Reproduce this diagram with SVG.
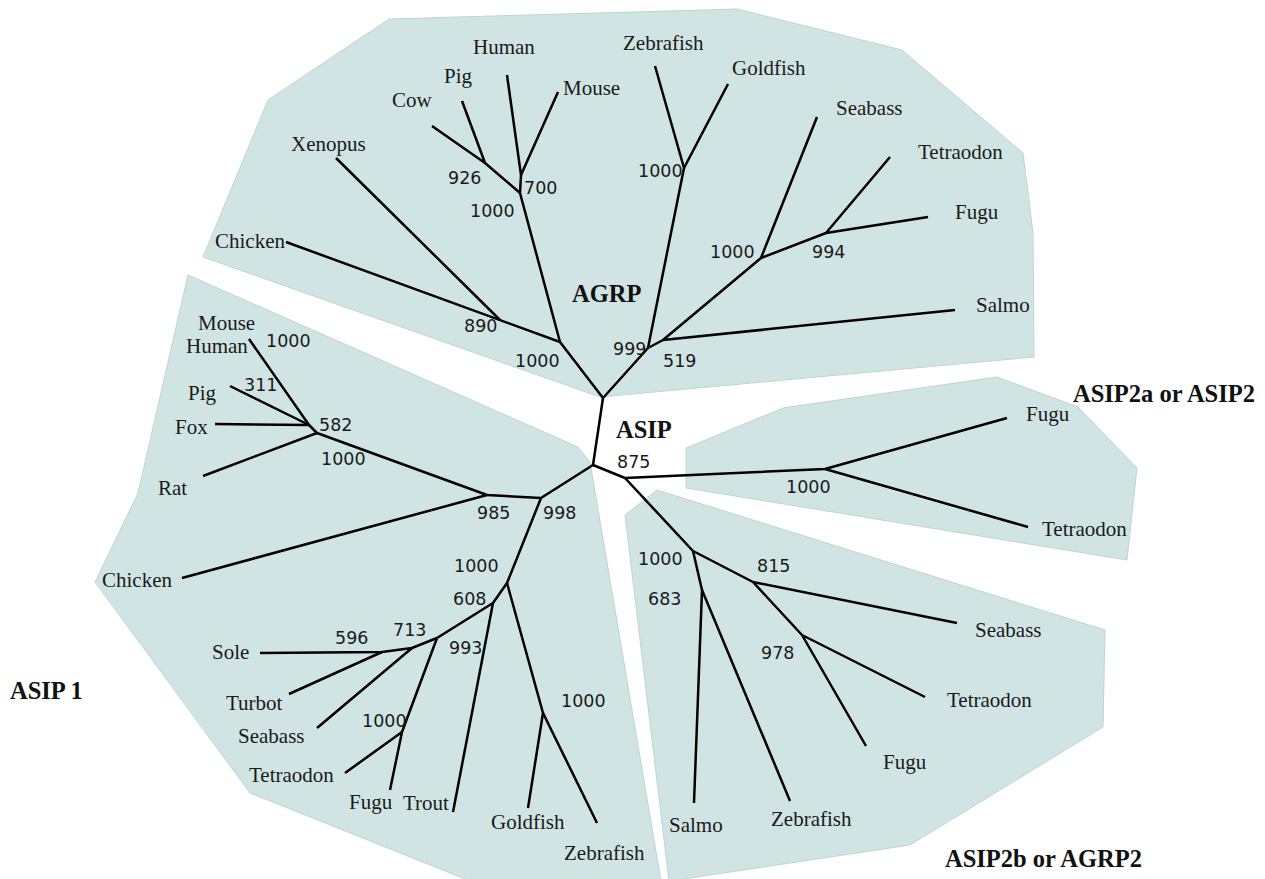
<svg xmlns="http://www.w3.org/2000/svg" width="1265" height="879" viewBox="0 0 1265 879">
<style>
.reg{fill:#d0e5e3;stroke:#bcd6d4;stroke-width:1}
.sp{font-family:"Liberation Serif","Times New Roman",serif;font-size:21px;fill:#1a1a1a}
.bs{font-family:"Liberation Serif","Times New Roman",serif;font-size:24.5px;font-weight:bold;fill:#111}
.num{font-family:"DejaVu Sans",Verdana,sans-serif;font-size:17.5px;fill:#1a1a1a}
.br{fill:none;stroke:#000;stroke-width:2.5;stroke-linejoin:round;stroke-linecap:butt}
</style>
<rect width="1265" height="879" fill="#fff"/>

<g id="region-agrp">
<polygon class="reg" points="389,19 737,9 902,50 1023,153 1033,233 1034,357 600,397 203,257 268,100"/>
</g>
<g id="region-asip1">
<polygon class="reg" points="188,275 138,493 95,582 250,793 470,881 661,881 590,462 578,447"/>
</g>
<g id="region-asip2a">
<polygon class="reg" points="686,448 783,408 997,377 1078,407 1137,468 1127,560 686,488"/>
</g>
<g id="region-asip2b">
<polygon class="reg" points="625,515 657,490 1105,630 1103,727 910,845 670,881 669,881"/>
</g>

<g id="connectors" class="br">
<!-- root -->
<path d="M603,398 L593,465"/>
<!-- AGRP tetrapods -->
<path d="M603,398 L560,342 L520,193 L521,175 L507,75"/>
<path d="M521,175 L558,92"/>
<path d="M520,193 L485,163 L432,126"/>
<path d="M485,163 L462,101"/>
<path d="M560,342 L286,242"/>
<path d="M500,320 L336,158"/>
<!-- AGRP fish -->
<path d="M603,398 L648,348 L684,168 L655,66"/>
<path d="M684,168 L728,84"/>
<path d="M648,348 L663,340 L761,258 L817,117"/>
<path d="M663,340 L955,310"/>
<path d="M761,258 L826,233 L890,157"/>
<path d="M826,233 L928,217"/>
<!-- ASIP1 -->
<path d="M593,465 L541,498 L487,495 L317,433 L309,425 L249,339"/>
<path d="M309,425 L230,386"/>
<path d="M309,425 L215,424"/>
<path d="M317,433 L203,476"/>
<path d="M487,495 L182,578"/>
<path d="M541,498 L507,583 L493,603 L437,638 L402,732 L390,790"/>
<path d="M402,732 L345,773"/>
<path d="M437,638 L412,648 L382,652 L260,653"/>
<path d="M412,648 L317,728"/>
<path d="M382,652 L289,694"/>
<path d="M493,603 L453,812"/>
<path d="M507,583 L543,713 L528,808"/>
<path d="M543,713 L597,823"/>
<!-- ASIP2 -->
<path d="M593,465 L625,478 L825,469 L1007,418"/>
<path d="M825,469 L1028,527"/>
<path d="M625,478 L693,551 L702,590 L694,803"/>
<path d="M702,590 L790,801"/>
<path d="M693,551 L753,582 L957,623"/>
<path d="M753,582 L802,635 L925,697"/>
<path d="M802,635 L866,746"/>
</g>

<g id="agrp-labels">
<text class="bs" x="572" y="302">AGRP</text>
<g id="agrp-human"><text class="sp" x="473" y="54">Human</text></g>
<g id="agrp-pig"><text class="sp" x="444" y="83">Pig</text></g>
<g id="agrp-cow"><text class="sp" x="392" y="107">Cow</text></g>
<g id="agrp-mouse"><text class="sp" x="563" y="95">Mouse</text></g>
<g id="agrp-xenopus"><text class="sp" x="291" y="151">Xenopus</text></g>
<g id="agrp-chicken"><text class="sp" x="215" y="248">Chicken</text></g>
<g id="agrp-zebrafish"><text class="sp" x="623" y="50">Zebrafish</text></g>
<g id="agrp-goldfish"><text class="sp" x="732" y="75">Goldfish</text></g>
<g id="agrp-seabass"><text class="sp" x="836" y="115">Seabass</text></g>
<g id="agrp-tetraodon"><text class="sp" x="918" y="159">Tetraodon</text></g>
<g id="agrp-fugu"><text class="sp" x="955" y="219">Fugu</text></g>
<g id="agrp-salmo"><text class="sp" x="976" y="312">Salmo</text></g>
<text class="num" x="448" y="184">926</text>
<text class="num" x="524" y="194">700</text>
<text class="num" x="470" y="217">1000</text>
<text class="num" x="464" y="332">890</text>
<text class="num" x="515" y="367">1000</text>
<text class="num" x="638" y="177">1000</text>
<text class="num" x="710" y="258">1000</text>
<text class="num" x="812" y="258">994</text>
<text class="num" x="613" y="355">999</text>
<text class="num" x="663" y="367">519</text>
</g>

<g id="asip1-labels">
<text class="bs" x="10" y="699">ASIP 1</text>
<g id="asip1-mouse"><text class="sp" x="198" y="330">Mouse</text></g>
<g id="asip1-human"><text class="sp" x="186" y="353">Human</text></g>
<g id="asip1-pig"><text class="sp" x="188" y="400">Pig</text></g>
<g id="asip1-fox"><text class="sp" x="175" y="434">Fox</text></g>
<g id="asip1-rat"><text class="sp" x="158" y="495">Rat</text></g>
<g id="asip1-chicken"><text class="sp" x="102" y="587">Chicken</text></g>
<g id="asip1-sole"><text class="sp" x="212" y="659">Sole</text></g>
<g id="asip1-turbot"><text class="sp" x="226" y="710">Turbot</text></g>
<g id="asip1-seabass"><text class="sp" x="238" y="743">Seabass</text></g>
<g id="asip1-tetraodon"><text class="sp" x="249" y="782">Tetraodon</text></g>
<g id="asip1-fugu"><text class="sp" x="349" y="809">Fugu</text></g>
<g id="asip1-trout"><text class="sp" x="403" y="810">Trout</text></g>
<g id="asip1-goldfish"><text class="sp" x="491" y="829">Goldfish</text></g>
<g id="asip1-zebrafish"><text class="sp" x="564" y="860">Zebrafish</text></g>
<text class="num" x="266" y="347">1000</text>
<text class="num" x="244" y="391">311</text>
<text class="num" x="319" y="431">582</text>
<text class="num" x="321" y="465">1000</text>
<text class="num" x="477" y="519">985</text>
<text class="num" x="543" y="519">998</text>
<text class="num" x="454" y="572">1000</text>
<text class="num" x="453" y="605">608</text>
<text class="num" x="393" y="636">713</text>
<text class="num" x="335" y="644">596</text>
<text class="num" x="449" y="654">993</text>
<text class="num" x="362" y="727">1000</text>
<text class="num" x="561" y="707">1000</text>
</g>

<g id="asip2a-labels">
<text class="bs" x="616" y="438">ASIP</text>
<text class="bs" x="1073" y="402">ASIP2a or ASIP2</text>
<g id="asip2a-fugu"><text class="sp" x="1026" y="421">Fugu</text></g>
<g id="asip2a-tetraodon"><text class="sp" x="1042" y="536">Tetraodon</text></g>
<text class="num" x="617" y="468">875</text>
<text class="num" x="786" y="493">1000</text>
</g>

<g id="asip2b-labels">
<text class="bs" x="945" y="867">ASIP2b or AGRP2</text>
<g id="asip2b-seabass"><text class="sp" x="975" y="637">Seabass</text></g>
<g id="asip2b-tetraodon"><text class="sp" x="947" y="707">Tetraodon</text></g>
<g id="asip2b-fugu"><text class="sp" x="883" y="769">Fugu</text></g>
<g id="asip2b-salmo"><text class="sp" x="669" y="832">Salmo</text></g>
<g id="asip2b-zebrafish"><text class="sp" x="771" y="826">Zebrafish</text></g>
<text class="num" x="638" y="565">1000</text>
<text class="num" x="648" y="605">683</text>
<text class="num" x="757" y="572">815</text>
<text class="num" x="761" y="659">978</text>
</g>
</svg>
